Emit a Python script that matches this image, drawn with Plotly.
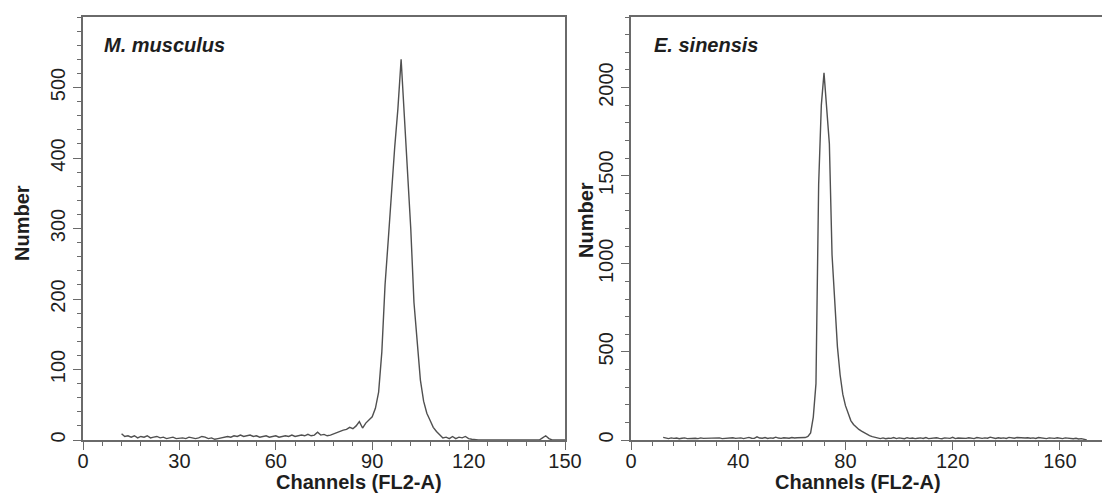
import plotly.graph_objects as go

# Flow-cytometry DNA content histograms (counts per FL2-A channel)
mm_channels = list(range(12, 151))
mm_counts = [
    9, 5, 6, 4, 6, 3, 5, 4, 6, 3,
    4, 5, 3, 4, 2, 3, 4, 2, 3, 3,
    2, 4, 3, 2, 3, 5, 4, 2, 3, 1,
    2, 3, 4, 5, 4, 6, 5, 7, 5, 6,
    7, 5, 6, 4, 5, 6, 4, 5, 6, 4,
    5, 6, 5, 7, 5, 6, 7, 6, 8, 6,
    7, 11, 7, 8, 6, 7, 9, 10, 12, 14,
    15, 18, 16, 20, 26, 17, 24, 28, 33, 45,
    68, 125, 220, 284, 355, 415, 470, 540, 460, 388,
    300, 195, 140, 85, 55, 38, 28, 18, 12, 8,
    3, 4, 2, 5, 2, 4, 3, 5, 2, 1,
    0, 0, 0, 0, 0, 0, 0, 0, 0, 0,
    0, 0, 0, 0, 0, 0, 0, 0, 0, 0,
    0, 3, 6, 2, 0, 0, 0, 0, 0,
]

es_channels = list(range(12, 171))
es_counts = [
    15, 10, 8, 12, 9, 11, 7, 10, 12, 8,
    9, 11, 10, 8, 12, 9, 10, 7, 11, 9,
    10, 12, 8, 9, 11, 10, 13, 9, 10, 12,
    8, 11, 15, 10, 9, 18, 11, 10, 14, 9,
    12, 10, 16, 11, 9, 13, 12, 10, 14, 11,
    13, 12, 15, 14, 20,
    40, 130, 320, 1450, 1900, 2083, 1900, 1680, 1050, 750,
    530, 370, 260, 195, 150, 110, 88, 72, 60, 50,
    40, 32, 25, 19, 14, 10, 8, 12, 7, 10,
    9, 14, 8, 12, 10, 7, 13, 9, 11, 8,
    10, 12, 9, 14, 8, 11, 10, 13, 9, 7,
    12, 10, 9, 15, 8, 11, 10, 12, 9, 13,
    10, 8, 14, 11, 9, 12, 10, 16, 11, 9,
    13, 10, 12, 9, 15, 11, 10, 14, 12, 9,
    11, 13, 10, 12, 9, 14, 11, 10, 8, 12,
    10, 9, 13, 11, 8, 12, 10, 9, 7, 10,
    6, 8, 5, 0,
]

species = ["M. musculus", "E. sinensis"]
x_title = "Channels (FL2-A)"
y_title = "Number"

W, H = 1102, 493
FONT = "Liberation Sans, Arial, Helvetica, sans-serif"
AXIS_COLOR = "#6a6a6a"
LINE_COLOR = "#505050"
TEXT_COLOR = "#1e1e1e"

fig = go.Figure()
fig.add_trace(go.Scatter(x=mm_channels, y=mm_counts, mode="lines",
                         line=dict(color=LINE_COLOR, width=1.4),
                         xaxis="x", yaxis="y", showlegend=False))
fig.add_trace(go.Scatter(x=es_channels, y=es_counts, mode="lines",
                         line=dict(color=LINE_COLOR, width=1.4),
                         xaxis="x2", yaxis="y2", showlegend=False))


def px_x(p):
    return p / W


def px_y(p):
    return 1 - p / H


ydom = [px_y(440), px_y(17)]

common_axis = dict(
    showline=True, linecolor=AXIS_COLOR, linewidth=1.6,
    showgrid=False, zeroline=False,
    ticks="outside", tickcolor=AXIS_COLOR, tickwidth=1.4, ticklen=8,
    tickfont=dict(family=FONT, size=20, color=TEXT_COLOR),
    automargin=False,
)

fig.update_layout(
    width=W, height=H,
    margin=dict(l=0, r=0, t=0, b=0),
    paper_bgcolor="white", plot_bgcolor="white",
    xaxis=dict(domain=[px_x(83), px_x(565)], range=[0, 150], anchor="y",
               tick0=0, dtick=30, mirror=True, ticklabelstandoff=-6,
               minor=dict(dtick=6, ticklen=4, tickcolor=AXIS_COLOR, ticks="outside"),
               **common_axis),
    yaxis=dict(domain=ydom, range=[0, 600], anchor="x",
               tickvals=[0, 100, 200, 300, 400, 500],
               tickangle=-90, mirror=True,
               minor=dict(dtick=20, ticklen=4, tickcolor=AXIS_COLOR, ticks="outside"),
               **common_axis),
    xaxis2=dict(domain=[px_x(631), 1.0], range=[0, 175.7], anchor="y2",
                tick0=0, dtick=40, mirror=True, ticklabelstandoff=-6,
                minor=dict(dtick=8, ticklen=4, tickcolor=AXIS_COLOR, ticks="outside"),
                **common_axis),
    yaxis2=dict(domain=ydom, range=[0, 2400], anchor="x2",
                tickvals=[0, 500, 1000, 1500, 2000],
                tickangle=-90, mirror=False,
                minor=dict(dtick=100, ticklen=4, tickcolor=AXIS_COLOR, ticks="outside"),
                **common_axis),
)

annotations = [
    dict(text=species[0], x=px_x(102), y=px_y(45), xanchor="left", yanchor="middle",
         font=dict(family=FONT, size=20, color=TEXT_COLOR, weight="bold", style="italic")),
    dict(text=species[1], x=px_x(652), y=px_y(45), xanchor="left", yanchor="middle",
         font=dict(family=FONT, size=20, color=TEXT_COLOR, weight="bold", style="italic")),
    dict(text=x_title, x=px_x(359), y=px_y(482), xanchor="center", yanchor="middle",
         font=dict(family=FONT, size=20, color=TEXT_COLOR, weight="bold")),
    dict(text=x_title, x=px_x(858), y=px_y(482), xanchor="center", yanchor="middle",
         font=dict(family=FONT, size=20, color=TEXT_COLOR, weight="bold")),
    dict(text=y_title, x=px_x(22), y=px_y(223), xanchor="center", yanchor="middle",
         textangle=-90,
         font=dict(family=FONT, size=20, color=TEXT_COLOR, weight="bold")),
    dict(text=y_title, x=px_x(586), y=px_y(220), xanchor="center", yanchor="middle",
         textangle=-90,
         font=dict(family=FONT, size=20, color=TEXT_COLOR, weight="bold")),
]
for a in annotations:
    a.update(xref="paper", yref="paper", showarrow=False)
fig.update_layout(annotations=annotations)

fig.write_html("out.html")
